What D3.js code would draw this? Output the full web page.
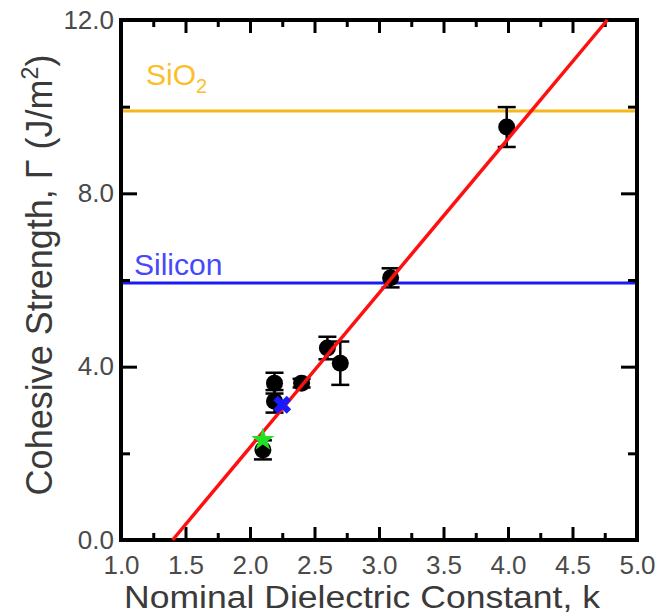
<!DOCTYPE html>
<html>
<head>
<meta charset="utf-8">
<script src="https://cdn.jsdelivr.net/npm/d3@7"></script>
<style>
  html, body { margin: 0; padding: 0; background: #fff; }
  svg { display: block; }
  text { font-family: "Liberation Sans", Arial, Helvetica, sans-serif; }
</style>
</head>
<body>
<svg id="chart" width="658" height="616"></svg>
<script>
// ---- data ----
const kValues     = [2.10, 2.19, 2.19, 2.40, 2.60, 2.70, 3.09, 3.99];
const gammaValues = [2.08, 3.62, 3.20, 3.62, 4.43, 4.08, 6.05, 9.53];
const errValues   = [0.22, 0.24, 0.26, 0.10, 0.26, 0.50, 0.22, 0.46];

const specialNames = ["green", "blue"];
const specialK     = [2.10, 2.25];
const specialG     = [2.31, 3.12];

const fitK = [1.40, 4.77];
const fitG = [0.0, 12.0];

const refNames  = ["SiO2", "Silicon"];
const refValues = [9.9, 5.93];

const xTicks      = [1.0, 1.5, 2.0, 2.5, 3.0, 3.5, 4.0, 4.5, 5.0];
const xMinorTicks = [1.25, 1.75, 2.25, 2.75, 3.25, 3.75, 4.25, 4.75];
const yTicks      = [0, 4, 8, 12];
const yMinorTicks = [2, 6, 10];

// ---- layout ----
const svg = d3.select("#chart");
const pLeft = 121, pRight = 637, pTop = 20, pBottom = 540;
const x = d3.scaleLinear().domain([1, 5]).range([pLeft, pRight]);
const y = d3.scaleLinear().domain([0, 12]).range([pBottom, pTop]);

const fmt = d3.format(".1f");
const tickColor = "#4a4a4a";

// reference lines
const refColors = ["#f5b818", "#1a1af5"];
const refTextColors = ["#fbbf2a", "#4747ff"];
svg.selectAll(".ref").data(refValues).enter().append("line")
  .attr("x1", x(1)).attr("x2", x(5))
  .attr("y1", d => y(d)).attr("y2", d => y(d))
  .attr("stroke", (d, i) => refColors[i]).attr("stroke-width", 3);

// SiO2 label
const t1 = svg.append("text").attr("x", 146).attr("y", 85)
  .attr("font-size", 30).attr("fill", refTextColors[0]);
t1.append("tspan").text("SiO");
t1.append("tspan").text("2").attr("font-size", 20).attr("dy", 8);
// Silicon label
svg.append("text").attr("x", 134).attr("y", 275)
  .attr("font-size", 30).attr("fill", refTextColors[1]).text(refNames[1]);

// axes ticks (inward)
function styleAxis(g) {
  g.select(".domain").remove();
  g.selectAll(".tick line").attr("stroke", "#000").attr("stroke-width", 3);
  g.selectAll(".tick text").attr("fill", tickColor)
    .attr("font-size", 26).attr("font-family", "Liberation Sans, Arial, sans-serif");
}
svg.append("g").attr("transform", `translate(0,${pBottom})`)
  .call(d3.axisBottom(x).tickValues(xTicks).tickSize(-13).tickPadding(16).tickFormat(fmt))
  .call(styleAxis);
svg.append("g").attr("transform", `translate(0,${pBottom})`)
  .call(d3.axisBottom(x).tickValues(xMinorTicks).tickSize(-7).tickFormat(""))
  .call(styleAxis);
svg.append("g").attr("transform", `translate(0,${pTop})`)
  .call(d3.axisTop(x).tickValues(xTicks).tickSize(-13).tickFormat(""))
  .call(styleAxis);
svg.append("g").attr("transform", `translate(0,${pTop})`)
  .call(d3.axisTop(x).tickValues(xMinorTicks).tickSize(-7).tickFormat(""))
  .call(styleAxis);
svg.append("g").attr("transform", `translate(${pLeft},0)`)
  .call(d3.axisLeft(y).tickValues(yTicks).tickSize(-16).tickPadding(7).tickFormat(fmt))
  .call(styleAxis);
svg.append("g").attr("transform", `translate(${pLeft},0)`)
  .call(d3.axisLeft(y).tickValues(yMinorTicks).tickSize(-9).tickFormat(""))
  .call(styleAxis);
svg.append("g").attr("transform", `translate(${pRight},0)`)
  .call(d3.axisRight(y).tickValues(yTicks).tickSize(-16).tickFormat(""))
  .call(styleAxis);
svg.append("g").attr("transform", `translate(${pRight},0)`)
  .call(d3.axisRight(y).tickValues(yMinorTicks).tickSize(-9).tickFormat(""))
  .call(styleAxis);

// frame
svg.append("rect").attr("x", pLeft).attr("y", pTop)
  .attr("width", pRight - pLeft).attr("height", pBottom - pTop)
  .attr("fill", "none").attr("stroke", "#000").attr("stroke-width", 4);

// data points with error bars
const pts = kValues.map((k, i) => ({k, g: gammaValues[i], e: errValues[i]}));
const pg = svg.append("g");
pg.selectAll("line.eb").data(pts).enter().append("line").attr("class", "eb")
  .attr("x1", d => x(d.k)).attr("x2", d => x(d.k))
  .attr("y1", d => y(d.g - d.e)).attr("y2", d => y(d.g + d.e))
  .attr("stroke", "#000").attr("stroke-width", 2.5);
[1, -1].forEach((s, j) => {
  pg.selectAll("line.cap" + j).data(pts).enter().append("line").attr("class", "cap" + j)
    .attr("x1", d => x(d.k) - 9).attr("x2", d => x(d.k) + 9)
    .attr("y1", d => y(d.g + s * d.e))
    .attr("y2", d => y(d.g + s * d.e))
    .attr("stroke", "#000").attr("stroke-width", 2.5);
});
pg.selectAll("circle").data(pts).enter().append("circle")
  .attr("cx", d => x(d.k)).attr("cy", d => y(d.g)).attr("r", 8.5)
  .attr("fill", "#000");

// fit line
svg.append("line")
  .attr("x1", x(fitK[0])).attr("y1", y(fitG[0]))
  .attr("x2", x(fitK[1])).attr("y2", y(fitG[1]))
  .attr("stroke", "#ff1010").attr("stroke-width", 3.5);

// special markers
svg.append("path")
  .attr("d", d3.symbol().type(d3.symbolStar).size(170)())
  .attr("transform", `translate(${x(specialK[0])},${y(specialG[0])})`)
  .attr("fill", "#22e022");
svg.append("path")
  .attr("d", d3.symbol().type(d3.symbolCross).size(200)())
  .attr("transform", `translate(${x(specialK[1])},${y(specialG[1])}) rotate(45)`)
  .attr("fill", "#1a1aff");

// axis titles
svg.append("text")
  .attr("x", 362).attr("y", 608)
  .attr("text-anchor", "middle").attr("font-size", 31).attr("fill", "#3a3a3a")
  .attr("textLength", 476).attr("lengthAdjust", "spacingAndGlyphs")
  .text("Nominal Dielectric Constant, k");

const yt = svg.append("text")
  .attr("transform", `translate(52,275) rotate(-90)`)
  .attr("text-anchor", "middle").attr("font-size", 36).attr("fill", "#3a3a3a");
yt.append("tspan").text("Cohesive Strength, \u0393 (J/m");
yt.append("tspan").text("2").attr("font-size", 23).attr("dy", -14);
yt.append("tspan").text(")").attr("dy", 14);
</script>
</body>
</html>
